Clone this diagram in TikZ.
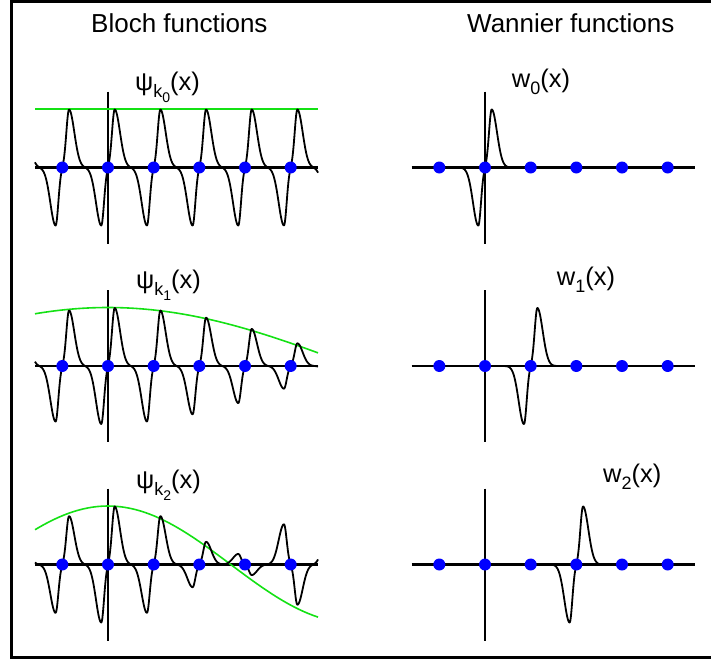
\documentclass[tikz,border=0pt]{standalone}
\usepackage{fontspec}
\setmainfont{Liberation Sans}
\definecolor{lgreen}{RGB}{20,225,20}
\definecolor{dotblue}{RGB}{0,0,255}
\newcommand\mysubA[1]{\raisebox{-7pt}{\fontsize{18}{18}\selectfont #1}}
\newcommand\mysubB[1]{\raisebox{-5pt}{\fontsize{14}{14}\selectfont #1}}
\tikzset{
  frameline/.style={line width=3pt, line cap=rect},
  haxis/.style={line width=2.4pt},
  vaxis/.style={line width=1.8pt},
  curveline/.style={line width=1.8pt, line join=round},
  envline/.style={lgreen, line width=1.6pt},
  sitedot/.style={circle, fill=dotblue, inner sep=0pt, minimum size=12pt},
  ttl/.style={inner sep=0pt, anchor=base west, font=\fontsize{26}{30}\selectfont},
  lbl/.style={inner sep=0pt, anchor=base west, font=\fontsize{25.5}{30}\selectfont},
}
\begin{document}
\begin{tikzpicture}[x=1pt, y=-1pt,
  declare function={
    lobe(\u)=exp(-1*(min(abs((\u)-6.7)/ifthenelse((\u)<6.7,3.8,7.5),9))^2);
    wan(\u)=lobe(\u)-lobe(-1*(\u));
    bloch(\x,\k)=cos(\k*(16.67-108))*wan((\x)-16.67)
                +cos(\k*(62.33-108))*wan((\x)-62.33)
                +wan((\x)-108)
                +cos(\k*(153.67-108))*wan((\x)-153.67)
                +cos(\k*(199.33-108))*wan((\x)-199.33)
                +cos(\k*(245-108))*wan((\x)-245)
                +cos(\k*(290.67-108))*wan((\x)-290.67)
                +cos(\k*(336.33-108))*wan((\x)-336.33);
  }]
\useasboundingbox (0,0) rectangle (711,659);
% frame (open on the right)
\draw[frameline] (712,1.5) -- (11,1.5) -- (11,657.5) -- (712,657.5);

% titles
\node[ttl] (tbloch) at (91,32.7) {Bloch functions};
\node[ttl] (twan) at (467,32.7) {Wannier functions};

% ---------- Bloch panels ----------
\foreach \ay/\k/\n in {167.5/0/0, 366/0.3667/1, 564.5/0.7334/2}{
  \draw[haxis] (35,\ay) -- (318,\ay);
  \draw[vaxis] (108,\ay-76) -- (108,\ay+76);
  \draw[envline] plot[domain=35:318, samples=60, variable=\t] (\t,{\ay-58.5*cos(\k*(\t-108))});
  \draw[curveline] plot[domain=35:318, samples=480, variable=\t] (\t,{\ay-58*bloch(\t,\k)});
  \foreach \sx [count=\i] in {62.33,108,153.67,199.33,245,290.67}
    \node[sitedot] (b\n s\i) at (\sx,\ay) {};
}

% ---------- Wannier panels ----------
\foreach \ay/\c/\n in {167.5/485/0, 366/530.67/1, 564.5/576.33/2}{
  \draw[haxis] (411.7,\ay) -- (695,\ay);
  \draw[vaxis] (485,\ay-76) -- (485,\ay+76);
  \draw[curveline] plot[domain=\c-26:\c+26, samples=170, variable=\t] (\t,{\ay-58*wan(\t-\c)});
  \foreach \sx [count=\i] in {439.33,485,530.67,576.33,622,667.67}
    \node[sitedot] (w\n s\i) at (\sx,\ay) {};
}

% labels
\node[lbl] (lk0) at (135,90) {ψ\mysubA{k\mysubB{0}}(x)};
\node[lbl] (lk1) at (136,288) {ψ\mysubA{k\mysubB{1}}(x)};
\node[lbl] (lk2) at (136,488) {ψ\mysubA{k\mysubB{2}}(x)};
\node[lbl] (lw0) at (511.7,87) {w\mysubA{0}(x)};
\node[lbl] (lw1) at (556.7,285) {w\mysubA{1}(x)};
\node[lbl] (lw2) at (603,482.7) {w\mysubA{2}(x)};
\end{tikzpicture}
\end{document}
